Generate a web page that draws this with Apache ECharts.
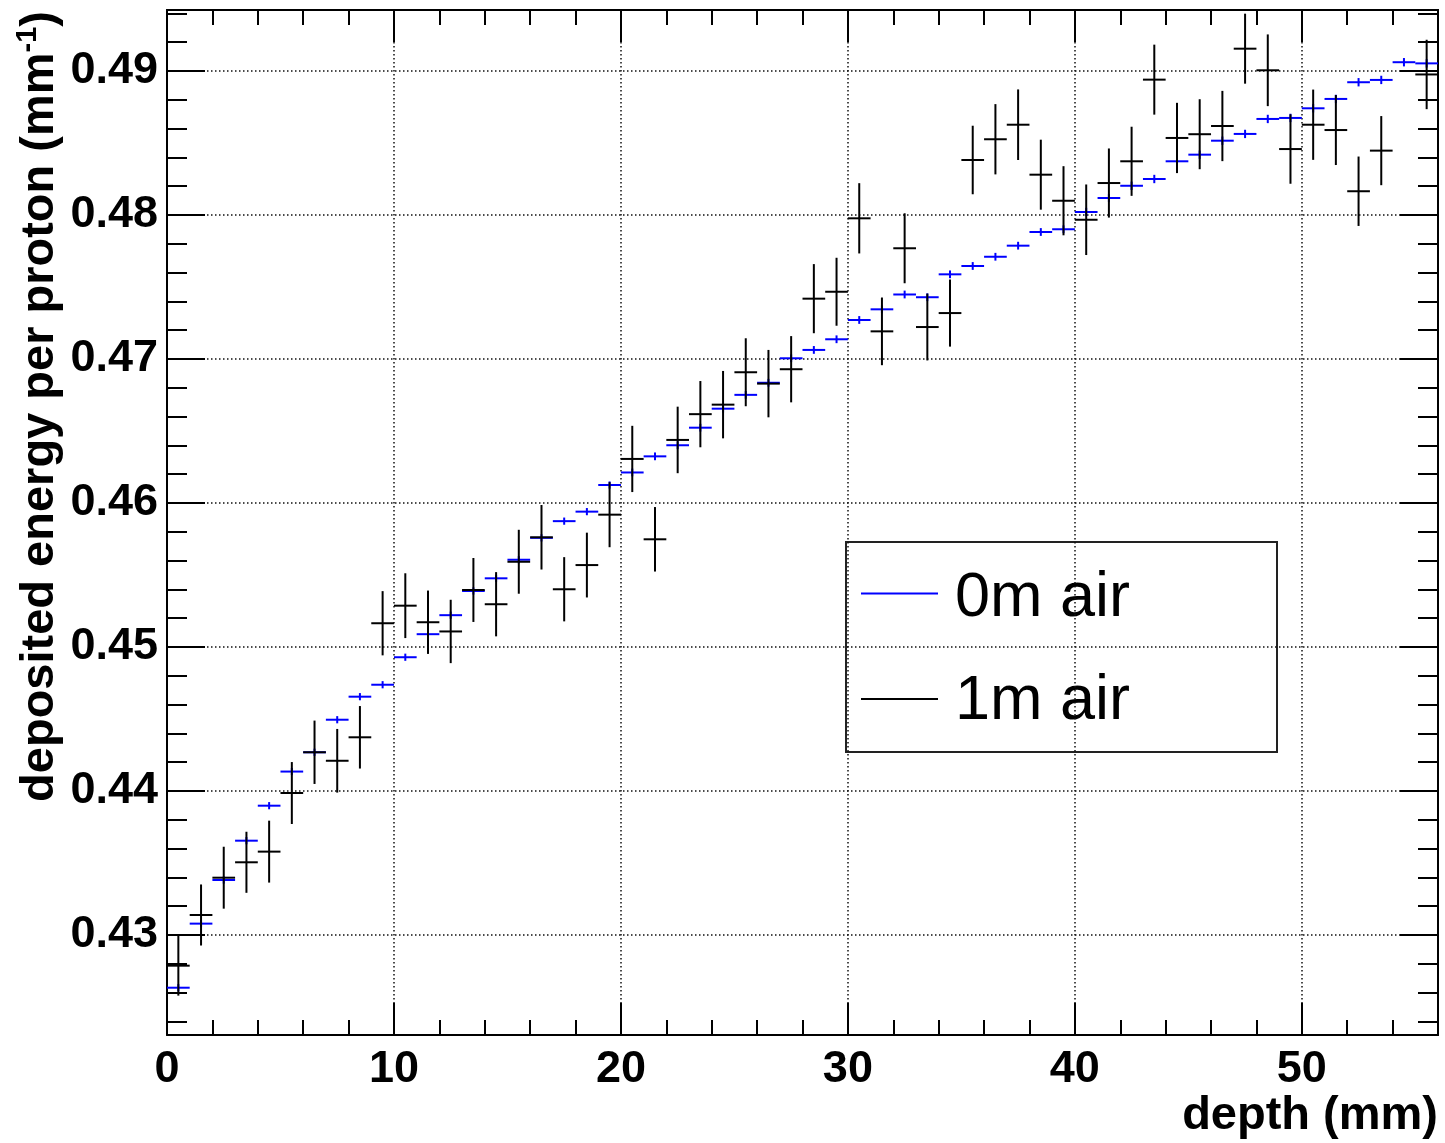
<!DOCTYPE html>
<html>
<head>
<meta charset="utf-8">
<script src="https://cdn.jsdelivr.net/npm/echarts@6/dist/echarts.min.js"></script>
<style>
html,body{margin:0;padding:0;background:#fff;}
#chart{width:1445px;height:1143px;}
</style>
</head>
<body>
<div id="chart"></div>
<script>
// ---- data ----
const depthCenters = [0.5,1.5,2.5,3.5,4.5,5.5,6.5,7.5,8.5,9.5,10.5,11.5,12.5,13.5,14.5,15.5,16.5,17.5,18.5,19.5,
  20.5,21.5,22.5,23.5,24.5,25.5,26.5,27.5,28.5,29.5,30.5,31.5,32.5,33.5,34.5,35.5,36.5,37.5,38.5,39.5,
  40.5,41.5,42.5,43.5,44.5,45.5,46.5,47.5,48.5,49.5,50.5,51.5,52.5,53.5,54.5,55.5];
const binHalfWidth = 0.5;

const air0m = [0.42634,0.43079,0.43382,0.43655,0.43898,0.44135,0.44269,0.44495,0.44655,0.44738,
  0.44929,0.45089,0.45221,0.45389,0.45477,0.45606,0.45758,0.45874,0.45940,0.46125,
  0.46212,0.46324,0.46401,0.46523,0.46655,0.46751,0.46835,0.47005,0.47063,0.47137,
  0.47271,0.47345,0.47448,0.47429,0.47588,0.47646,0.47710,0.47787,0.47882,0.47901,
  0.48021,0.48118,0.48203,0.48250,0.48373,0.48419,0.48516,0.48563,0.48667,0.48674,
  0.48741,0.48806,0.48922,0.48938,0.49061,0.49053];
const air0mErr = [0.00025,0.00025,0.00025,0.00025,0.00025,0.00025,0.00025,0.00025,0.00025,0.00025,
  0.00025,0.00025,0.00025,0.00025,0.00025,0.00025,0.00025,0.00025,0.00025,0.00025,
  0.00027,0.00027,0.00027,0.00027,0.00027,0.00027,0.00027,0.00027,0.00027,0.00027,
  0.00027,0.00027,0.00027,0.00027,0.00027,0.00027,0.00027,0.00027,0.00027,0.00027,
  0.00029,0.00029,0.00029,0.00029,0.00029,0.00029,0.00029,0.00029,0.00029,0.00029,
  0.00029,0.00029,0.00029,0.00029,0.00029,0.00029];

const air1m = [0.42787,0.43139,0.43398,0.43505,0.43579,0.43986,0.44269,0.44210,0.44373,0.45165,
  0.45287,0.45172,0.45108,0.45396,0.45297,0.45592,0.45762,0.45401,0.45569,0.45919,
  0.46306,0.45748,0.46438,0.46617,0.46683,0.46908,0.46829,0.46929,0.47419,0.47467,
  0.47977,0.47192,0.47769,0.47222,0.47319,0.48382,0.48526,0.48627,0.48280,0.48099,
  0.47967,0.48222,0.48373,0.48940,0.48535,0.48561,0.48618,0.49155,0.49005,0.48458,
  0.48627,0.48590,0.48165,0.48447,null,0.48976];
const air1mErr = [0.00208,0.00212,0.00215,0.00212,0.00215,0.00215,0.00220,0.00221,0.00217,0.00223,
  0.00225,0.00220,0.00220,0.00222,0.00223,0.00222,0.00224,0.00223,0.00225,0.00226,
  0.00230,0.00224,0.00231,0.00230,0.00234,0.00236,0.00234,0.00230,0.00240,0.00236,
  0.00244,0.00235,0.00243,0.00232,0.00233,0.00238,0.00244,0.00245,0.00243,0.00240,
  0.00245,0.00240,0.00240,0.00243,0.00244,0.00243,0.00244,0.00243,0.00249,0.00241,
  0.00244,0.00243,0.00241,0.00240,null,0.00241];

const seriesNames = ['0m air', '1m air'];
const xMajorTicks = [0, 10, 20, 30, 40, 50];
const xMinorTicks = [2,4,6,8,12,14,16,18,22,24,26,28,32,34,36,38,42,44,46,48,52,54];
const yMajorTicks = [0.43, 0.44, 0.45, 0.46, 0.47, 0.48, 0.49];
const yMinorTicks = [0.424,0.426,0.428,0.432,0.434,0.436,0.438,0.442,0.444,0.446,0.448,
  0.452,0.454,0.456,0.458,0.462,0.464,0.466,0.468,0.472,0.474,0.476,0.478,
  0.482,0.484,0.486,0.488,0.492,0.494];
const xRange = [0, 56];
const yRange = [0.423056, 0.494236];
const xTitle = 'depth (mm)';
const yTitleMain = 'deposited energy per proton (mm';
const yTitleSup = '-1';

// ---- chart ----
const chart = echarts.init(document.getElementById('chart'), null, {renderer: 'canvas'});
const FONT = '"Liberation Sans", Arial, Helvetica, sans-serif';

function buildData(xs, ys, es) {
  const out = [];
  for (let i = 0; i < xs.length; i++) {
    if (ys[i] == null) continue;
    out.push([xs[i], ys[i], es[i]]);
  }
  return out;
}

function errRender(color) {
  return function (params, api) {
    const x = api.value(0), y = api.value(1), e = api.value(2);
    const pL = api.coord([x - binHalfWidth, y]);
    const pR = api.coord([x + binHalfWidth, y]);
    const pT = api.coord([x, y + e]);
    const pB = api.coord([x, y - e]);
    return {
      type: 'group',
      children: [
        {type: 'line', shape: {x1: pL[0], y1: pL[1], x2: pR[0], y2: pR[1]}, style: {stroke: color, lineWidth: 2}},
        {type: 'line', shape: {x1: pT[0], y1: pT[1], x2: pB[0], y2: pB[1]}, style: {stroke: color, lineWidth: 2}}
      ]
    };
  };
}

const frameLine = {show: true, onZero: false, lineStyle: {color: '#000', width: 2}};
const gridDash = {show: true, lineStyle: {color: '#111', width: 1.5, type: [1.5, 2.5]}};

function xAx(pos, ticks, len, main) {
  return {
    type: 'value', position: pos, min: xRange[0], max: xRange[1],
    axisLine: main ? frameLine : {show: pos === 'top', onZero: false, lineStyle: {color: '#000', width: 2}},
    axisTick: {show: true, inside: true, length: len, customValues: ticks, lineStyle: {color: '#000', width: 2}},
    axisLabel: main ? {show: true, customValues: xMajorTicks, margin: 12, fontSize: 45, fontWeight: 'bold', fontFamily: FONT, color: '#000'} : {show: false},
    splitLine: main ? gridDash : {show: false},
    minorTick: {show: false}, minorSplitLine: {show: false}
  };
}
function yAx(pos, ticks, len, main) {
  return {
    type: 'value', position: pos, min: yRange[0], max: yRange[1],
    axisLine: main ? frameLine : {show: pos === 'right', onZero: false, lineStyle: {color: '#000', width: 2}},
    axisTick: {show: true, inside: true, length: len, customValues: ticks, lineStyle: {color: '#000', width: 2}},
    axisLabel: main ? {show: true, customValues: yMajorTicks, margin: 9, fontSize: 45, fontWeight: 'bold', fontFamily: FONT, color: '#000',
      formatter: v => v.toFixed(2)} : {show: false},
    splitLine: main ? gridDash : {show: false},
    minorTick: {show: false}, minorSplitLine: {show: false}
  };
}

const option = {
  animation: false,
  backgroundColor: '#fff',
  grid: {left: 167, right: 7, top: 10, bottom: 108, containLabel: false, outerBoundsMode: 'none'},
  xAxis: [
    xAx('bottom', xMajorTicks, 32, true),
    xAx('top', xMajorTicks, 32, false),
    xAx('bottom', xMinorTicks, 15, false),
    xAx('top', xMinorTicks, 15, false)
  ],
  yAxis: [
    yAx('left', yMajorTicks, 38, true),
    yAx('right', yMajorTicks, 38, false),
    yAx('left', yMinorTicks, 20, false),
    yAx('right', yMinorTicks, 20, false)
  ],
  series: [
    {
      name: seriesNames[0], type: 'custom', xAxisIndex: 0, yAxisIndex: 0, clip: true,
      itemStyle: {color: '#0000ff'},
      renderItem: errRender('#0000ff'),
      encode: {x: 0, y: 1},
      data: buildData(depthCenters, air0m, air0mErr), z: 3
    },
    {
      name: seriesNames[1], type: 'custom', xAxisIndex: 0, yAxisIndex: 0, clip: true,
      itemStyle: {color: '#000000'},
      renderItem: errRender('#000000'),
      encode: {x: 0, y: 1},
      data: buildData(depthCenters, air1m, air1mErr), z: 4
    }
  ],
  graphic: [
    {
      type: 'text', x: 40, y: 11, rotation: Math.PI / 2, z: 10,
      style: {
        text: '{a|' + yTitleMain + '}{s|' + yTitleSup + '}{a|)}',
        align: 'right', verticalAlign: 'middle',
        rich: {
          a: {fontSize: 47, fontWeight: 'bold', fontFamily: FONT, fill: '#000', lineHeight: 54},
          s: {fontSize: 29, fontWeight: 'bold', fontFamily: FONT, fill: '#000', verticalAlign: 'top', lineHeight: 54}
        }
      }
    },
    {
      type: 'text', x: 1438, y: 1116, z: 10,
      style: {text: xTitle, align: 'right', verticalAlign: 'middle', fontSize: 47, fontWeight: 'bold', fontFamily: FONT, fill: '#000'}
    },
    {
      type: 'group', z: 20,
      children: [
        {type: 'rect', shape: {x: 846, y: 542, width: 431, height: 210}, style: {fill: '#fff', stroke: '#222', lineWidth: 2}},
        {type: 'line', shape: {x1: 861, y1: 593.5, x2: 938, y2: 593.5}, style: {stroke: '#0000ff', lineWidth: 2}},
        {type: 'line', shape: {x1: 861, y1: 699, x2: 938, y2: 699}, style: {stroke: '#000', lineWidth: 2}},
        {type: 'text', x: 955, y: 598.5, style: {text: seriesNames[0], align: 'left', verticalAlign: 'middle', fontSize: 63, fontFamily: FONT, fill: '#000'}},
        {type: 'text', x: 955, y: 702, style: {text: seriesNames[1], align: 'left', verticalAlign: 'middle', fontSize: 63, fontFamily: FONT, fill: '#000'}}
      ]
    }
  ]
};
chart.setOption(option);
</script>
</body>
</html>
